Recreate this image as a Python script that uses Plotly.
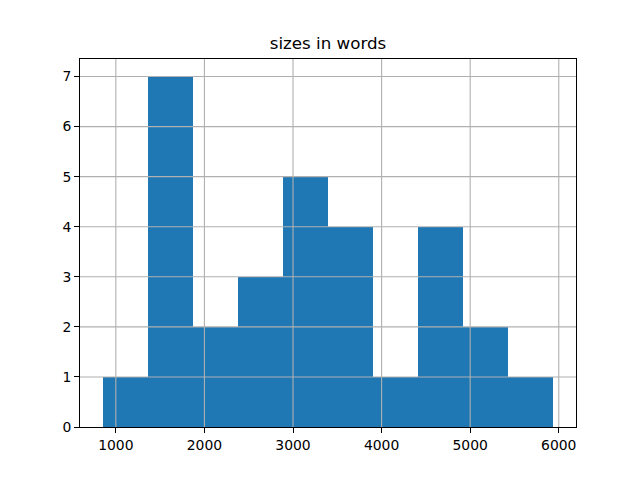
import plotly.graph_objects as go

# histogram of sizes in words
bin_start = 850
bin_width = 509
counts = [1, 7, 2, 3, 5, 4, 1, 4, 2, 1]
x_ticks = [1000, 2000, 3000, 4000, 5000, 6000]
y_ticks = [0, 1, 2, 3, 4, 5, 6, 7]

edges = [bin_start + i * bin_width for i in range(len(counts) + 1)]
centers = [(edges[i] + edges[i + 1]) / 2 for i in range(len(counts))]
span = edges[-1] - edges[0]

fig = go.Figure(go.Bar(
    x=centers, y=counts, width=[bin_width] * len(counts),
    marker=dict(color="#1f77b4", line=dict(width=0)),
))

# grid drawn above the bars, as in the reference
grid_style = dict(color="#b0b0b0", width=1.1)
for xv in x_ticks:
    fig.add_shape(type="line", xref="x", yref="y domain", x0=xv, x1=xv, y0=0, y1=1,
                  line=grid_style, layer="above")
for yv in y_ticks[1:]:
    fig.add_shape(type="line", xref="x domain", yref="y", x0=0, x1=1, y0=yv, y1=yv,
                  line=grid_style, layer="above")

axis_common = dict(
    showline=True, linecolor="black", linewidth=1, mirror=True,
    ticks="outside", ticklen=5, tickcolor="black", tickwidth=1,
    showgrid=False, zeroline=False, layer="above traces",
    tickfont=dict(family="DejaVu Sans", size=13.9, color="black"),
)

fig.update_layout(
    width=640, height=480,
    margin=dict(l=72, r=72, t=51, b=61),
    paper_bgcolor="white", plot_bgcolor="white",
    showlegend=False, bargap=0,
    title=dict(text="sizes in words", x=0.5, xanchor="center",
               y=1 - 35 / 480, yanchor="middle",
               font=dict(family="DejaVu Sans", size=16.7, color="black")),
    xaxis=dict(range=[edges[0] - 0.05 * span, edges[-1] + 0.05 * span],
               tickvals=x_ticks, **axis_common),
    yaxis=dict(range=[0, 7.35], tickvals=y_ticks, **axis_common),
)

fig.write_html("out.html")
